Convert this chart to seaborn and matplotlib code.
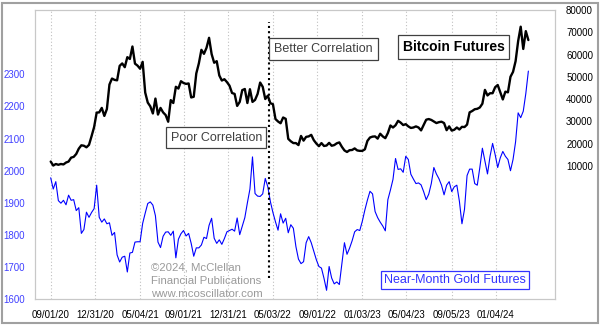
import numpy as np
import pandas as pd
import matplotlib
matplotlib.use("Agg")
import matplotlib.pyplot as plt
import seaborn as sns
from matplotlib.patches import Rectangle

# ---- data (weekly readings, first week starting 2020-09-01) ----
start_date = "2020-09-01"

gold = [
    1978, 1943, 1966, 1907, 1899, 1908, 1894, 1924, 1908, 1910,
    1876, 1885, 1805, 1817, 1871, 1855, 1870, 1882, 1955, 1855,
    1840, 1850, 1835, 1838, 1799, 1808, 1738, 1716, 1731, 1734,
    1685, 1744, 1746, 1778, 1779, 1779, 1836, 1868, 1898, 1903,
    1893, 1860, 1778, 1761, 1796, 1809, 1810, 1799, 1812, 1729,
    1787, 1804, 1814, 1797, 1805, 1774, 1734, 1760, 1760, 1769,
    1793, 1789, 1830, 1852, 1790, 1774, 1785, 1771, 1789, 1810,
    1814, 1818, 1812, 1853, 1801, 1827, 1854, 1900, 1943, 2043,
    1929, 1921, 1920, 1928, 1976, 1950, 1904, 1870, 1841, 1815,
    1866, 1837, 1852, 1807, 1832, 1821, 1764, 1725, 1711, 1717,
    1776, 1795, 1776, 1749, 1723, 1702, 1697, 1665, 1628, 1702,
    1666, 1648, 1654, 1646, 1712, 1776, 1740, 1759, 1782, 1810,
    1817, 1814, 1843, 1878, 1909, 1936, 1928, 1873, 1854, 1840,
    1828, 1813, 1910, 1940, 1973, 2038, 2004, 2006, 1995, 2045,
    2035, 1989, 1974, 1960, 1962, 1956, 1935, 1910, 1927, 1960,
    2010, 1990, 1975, 1955, 1925, 1955, 1966, 1935, 1950, 1955,
    1905, 1835, 1880, 1985, 2005, 2005, 1960, 1955, 2010, 2070,
    2030, 1990, 2045, 2085, 2050, 2010, 2040, 2060, 2045, 2035,
    2000, 2035, 2090, 2180, 2165, 2185, 2240, 2310,
]

bitcoin = [
    11900, 10100, 10800, 10450, 10800, 10600, 11450, 11900, 13650, 14000,
    15300, 17700, 19200, 19000, 18300, 19400, 23300, 27400, 33900, 34000,
    36000, 32400, 35500, 46500, 49200, 48600, 48400, 54900, 56000, 54300,
    58800, 58000, 63600, 55900, 55000, 53600, 56700, 42900, 38400, 36700,
    33500, 40200, 33000, 36000, 34000, 32800, 29800, 39500, 38200, 45500,
    44700, 48000, 47200, 46800, 47000, 40700, 41000, 51500, 56000, 62100,
    60300, 63000, 67500, 60200, 56300, 57000, 50600, 48300, 48900, 47600,
    46000, 42700, 42300, 36900, 38700, 44000, 44500, 38200, 44400, 38700,
    39600, 42300, 47400, 45500, 40000, 41500, 38100, 37700, 31000, 29900,
    29100, 31700, 31100, 22100, 21000, 20200, 20200, 19300, 23400, 21300,
    23000, 23200, 23900, 21500, 20000, 18800, 20200, 18900, 19100, 20300,
    19000, 19300, 20100, 20500, 18500, 16900, 16200, 17000, 17100, 17800,
    16900, 16700, 16700, 17400, 21200, 22700, 23100, 23200, 22200, 24400,
    23200, 22400, 24700, 28100, 27200, 28200, 30200, 29400, 28300, 28700,
    27700, 27000, 27200, 27700, 27200, 25900, 28300, 30700, 31000, 30600,
    29900, 29200, 29600, 29800, 29200, 26000, 27700, 25800, 26200, 27200,
    26300, 27500, 27400, 28500, 34000, 34600, 35400, 35600, 36200, 37900,
    44100, 41600, 42600, 42600, 45300, 46300, 43100, 39800, 43300, 43000,
    50000, 52200, 57000, 66000, 72500, 62500, 70500, 66500,
]

x_tick_dates = ["2020-09-01", "2020-12-31", "2021-05-04", "2021-09-01",
                "2021-12-31", "2022-05-03", "2022-09-01", "2023-01-03",
                "2023-05-04", "2023-09-05", "2024-01-04"]
x_tick_labels = ["09/01/20", "12/31/20", "05/04/21", "09/01/21", "12/31/21",
                 "05/03/22", "09/01/22", "01/03/23", "05/04/23", "09/05/23",
                 "01/04/24"]
gold_ticks = [1600, 1700, 1800, 1900, 2000, 2100, 2200, 2300]
btc_ticks = [10000, 20000, 30000, 40000, 50000, 60000, 70000, 80000]
divider_date = "2022-04-22"

# ---- style ----
sns.set_style("white")
plt.rcParams["font.family"] = ["Liberation Sans", "DejaVu Sans"]

dates = pd.date_range(start_date, periods=len(gold), freq="7D")
df = pd.DataFrame({"date": dates, "gold": gold, "bitcoin": bitcoin})

W, H = 600, 326
fig = plt.figure(figsize=(W / 100, H / 100), dpi=100)
fig.patch.set_facecolor("white")

L, T, R, B = 35, 10, 555, 299.3
ax = fig.add_axes([L / W, 1 - B / H, (R - L) / W, (B - T) / H])
ax2 = ax.twinx()

sns.lineplot(data=df, x="date", y="gold", ax=ax, color="#0000ff", lw=0.8)
sns.lineplot(data=df, x="date", y="bitcoin", ax=ax2, color="black", lw=1.7)

ax.set_xlim(pd.Timestamp("2020-07-20"), pd.Timestamp("2024-06-14"))
ax.set_ylim(1600, 2500)
ax2.set_ylim(-50000, 80000)

ax.set_xticks(pd.to_datetime(x_tick_dates))
ax.set_xticklabels(x_tick_labels)
ax.set_yticks(gold_ticks)
ax.set_yticklabels([str(v) for v in gold_ticks])
ax2.set_yticks(btc_ticks)
ax2.set_yticklabels([str(v) for v in btc_ticks])

ax.tick_params(axis="x", length=0, pad=8, labelsize=7, labelcolor="black")
ax.tick_params(axis="y", length=0, pad=7, labelsize=7, labelcolor="#4040ff")
ax2.tick_params(axis="y", length=0, pad=8, labelsize=7, labelcolor="black")

for a in (ax, ax2):
    a.set_xlabel("")
    a.set_ylabel("")
    for s in a.spines.values():
        s.set_color("#c8c8c8")
        s.set_linewidth(0.8)

ax.grid(axis="x", linestyle=(0, (1, 2)), color="#c0c0c0", linewidth=0.8)
ax.grid(axis="y", visible=False)
ax2.grid(False)

# divider between the two correlation regimes
ax2.axvline(pd.Timestamp(divider_date), ymin=1 - (278.3 - T) / (B - T),
            ymax=1 - (22 - T) / (B - T), color="black",
            linestyle=(0, (1, 1.5)), linewidth=1.5)

# ---- labels ----
def fig_text(x, y, s, **kw):
    fig.text(x / W, 1 - y / H, s, ha="center", va="center", **kw)

fig_text(216.3, 137.8, "Poor Correlation", fontsize=9, color="#404040",
         bbox=dict(boxstyle="square,pad=0.35", fc="white", ec="#404040", lw=0.9))
fig_text(323.5, 49.2, "Better Correlation", fontsize=9, color="#404040",
         bbox=dict(boxstyle="square,pad=0.4", fc="white", ec="#404040", lw=0.9))
fig_text(453.7, 46.7, "Bitcoin Futures", fontsize=10, fontweight="bold",
         color="black",
         bbox=dict(boxstyle="square,pad=0.35", fc="white", ec="#404040", lw=0.9))
fig_text(455, 280.3, "Near-Month Gold Futures", fontsize=9, color="#3333ff",
         bbox=dict(boxstyle="square,pad=0.25", fc="white", ec="#3333ff", lw=0.9))

for i, line in enumerate(["\u00a92024, McClellan", "Financial Publications",
                          "www.mcoscillator.com"]):
    fig.text(150.7 / W, 1 - (267.3 + 13.5 * i) / H, line, ha="left",
             va="center", fontsize=8.2, color="#9a9a9a")

# outer frame
fig.add_artist(Rectangle((1.8 / W, 2.8 / H), 595.9 / W, 320.4 / H,
                         transform=fig.transFigure, fill=False,
                         edgecolor="#a0a0a0", linewidth=1.5))

fig.savefig("out.png", dpi=100)
